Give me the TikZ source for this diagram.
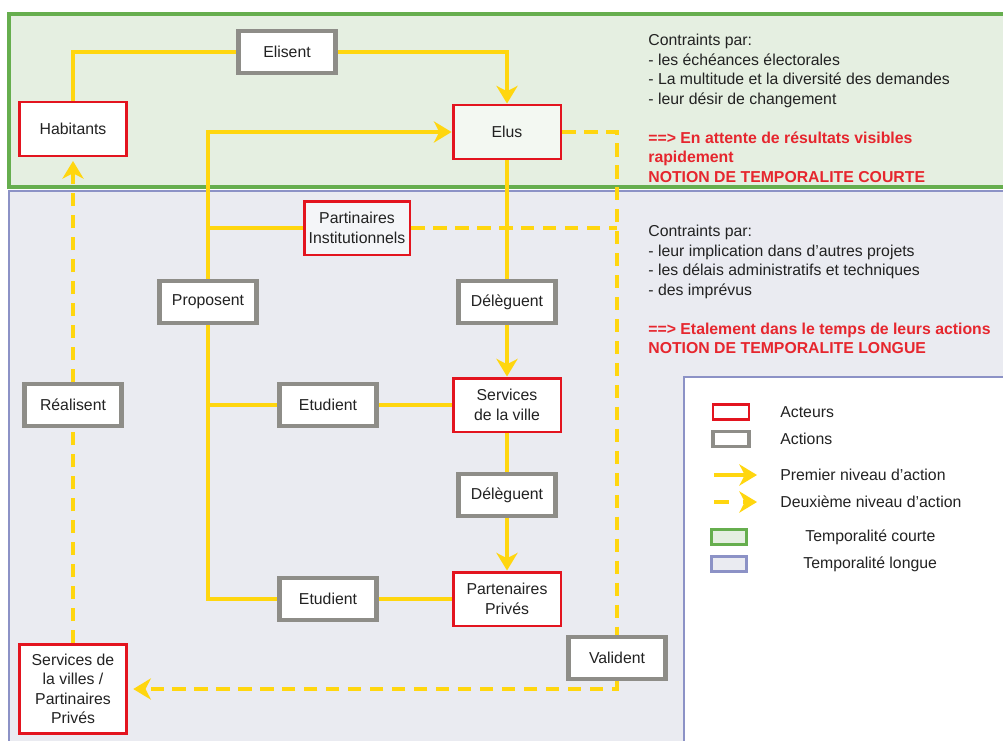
\documentclass[tikz,border=0pt]{standalone}
\usepackage{fontspec}
\setmainfont{Liberation Sans}
\usetikzlibrary{positioning}
\usetikzlibrary{arrows.meta}

\definecolor{jaune}{HTML}{FFD60F}
\definecolor{rouge}{HTML}{E3141F}
\definecolor{gris}{HTML}{8E8D88}
\definecolor{vert}{HTML}{66AE4E}
\definecolor{vertfond}{HTML}{E5EFE1}
\definecolor{bleu}{HTML}{8C92C6}
\definecolor{bleufond}{HTML}{EAEBF1}
\definecolor{texte}{HTML}{222222}
\definecolor{alerte}{HTML}{E6262E}

\begin{document}
\begin{tikzpicture}[x=0.02cm,y=-0.02cm,
      font=\fontsize{9}{11.1}\selectfont, text=texte,
      acteur/.style={draw=rouge,line width=1.7pt,fill=white,align=center,
        minimum width=2.16cm,minimum height=1.08cm,inner sep=1pt},
      action/.style={draw=gris,line width=2.4pt,fill=white,
        minimum width=1.94cm,minimum height=0.84cm,inner sep=1pt},
      trait/.style={draw=jaune,line width=1.8pt},
      fleche/.style={trait,-{Stealth[length=10pt,width=12pt,inset=3pt]}},
      tirets/.style={trait,dash pattern=on 7.5pt off 5pt},
      flechetirets/.style={tirets,-{Stealth[length=10pt,width=12pt,inset=3pt]}},
      bloc/.style={anchor=north west,inner sep=0pt,align=left},
      legende/.style={anchor=west,inner sep=0pt},
    ]
        \useasboundingbox (0,0) rectangle (1003,740);
        \clip (0,0) rectangle (1003,740);
        % fonds
        \draw[draw=vert,line width=2.3pt,fill=vertfond] (9,14) rectangle (1015,187);
        \draw[draw=bleu,line width=1.6pt,fill=bleufond] (9,191) rectangle (1015,750);
        \draw[draw=bleu,line width=1.6pt,fill=white] (684,377) rectangle (1015,750);

        % acteurs
        \node[acteur] (hab) at (73,129) {Habitants};
        \node[acteur,fill=white!55!vertfond] (elus) at (507,132) {Elus};
        \node[acteur,fill=white!50!bleufond,minimum width=2.12cm] (inst) at (357,228) {Partinaires\\Institutionnels};
        \node[acteur] (serv) at (507,405) {Services\\de la ville};
        \node[acteur] (priv) at (507,599) {Partenaires\\Priv\'es};
        \node[acteur,minimum width=2.14cm,minimum height=1.78cm] (svp) at (73,689) {Services de\\la villes /\\Partinaires\\Priv\'es};

        % actions
        \node[action] (elis) at (287,52) {Elisent};
        \node[action] (prop) at (208,302) {Proposent};
        \node[action] (del1) at (507,302) {D\'el\`eguent};
        \node[action] (real) at (73,405) {R\'ealisent};
        \node[action] (etu1) at (328,405) {Etudient};
        \node[action] (del2) at (507,495) {D\'el\`eguent};
        \node[action] (etu2) at (328,599) {Etudient};
        \node[action] (valid) at (617,658) {Valident};

        % premier niveau
        \draw[trait] (hab.north) |- (elis.west);
        \draw[fleche] (elis.east) -| (elus.north);
        \draw[fleche] (prop.north) |- (elus.west);
        \draw[trait] (inst.west) -- (inst.west -| prop.north);
        \draw[trait] (prop.south) |- (etu2.west);
        \draw[trait] (etu1.west) -- (etu1.west -| prop.south);
        \draw[trait] (etu1.east) -- (serv.west);
        \draw[trait] (etu2.east) -- (priv.west);
        \draw[trait] (elus.south) -- (del1.north);
        \draw[fleche] (del1.south) -- (serv.north);
        \draw[trait] (serv.south) -- (del2.north);
        \draw[fleche] (del2.south) -- (priv.north);

        % deuxieme niveau
        \draw[tirets] (elus.east) -| (valid.north);
        \draw[tirets] (inst.east) -- (inst.east -| valid.north);
        \draw[flechetirets,shorten >=3pt] (valid.south) |- (svp.east);
        \draw[tirets] (svp.north) -- (real.south);
        \draw[flechetirets,shorten >=2pt] (real.north) -- (hab.south);

        % textes
        \node[bloc] (courte) at (648,34) {Contraints par:\\
          - les \'ech\'eances \'electorales\\
          - La multitude et la diversit\'e des demandes\\
          - leur d\'esir de changement\\[11.1pt]
          \textcolor{alerte}{\bfseries ==> En attente de r\'esultats visibles}\\
          \textcolor{alerte}{\bfseries rapidement}\\
          \textcolor{alerte}{\bfseries NOTION DE TEMPORALITE COURTE}};
        \node[bloc] (longue) at (648,225) {Contraints par:\\
          - leur implication dans d’autres projets\\
          - les d\'elais administratifs et techniques\\
          - des impr\'evus\\[11.1pt]
          \textcolor{alerte}{\bfseries ==> Etalement dans le temps de leurs actions}\\
          \textcolor{alerte}{\bfseries NOTION DE TEMPORALITE LONGUE}};

        % legende
        \node[draw=rouge,line width=1.3pt,minimum width=0.72cm,minimum height=0.3cm,inner sep=0pt] (lgact) at (731,412) {};
        \node[legende] (lgacttxt) at (780,412) {Acteurs};
        \node[draw=gris,line width=2pt,minimum width=0.72cm,minimum height=0.3cm,inner sep=0pt] (lgaction) at (731,439) {};
        \node[legende] (lgactiontxt) at (780,439) {Actions};
        \coordinate (lgun) at (714,475);
        \coordinate (lgunfin) at (757,475);
        \draw[fleche] (lgun) -- (lgunfin);
        \node[legende] (lguntxt) at (780,475) {Premier niveau d’action};
        \coordinate (lgdeux) at (714,502);
        \coordinate (lgdeuxfin) at (757,502);
        \draw[flechetirets,dash pattern=on 8.5pt off 8pt] (lgdeux) -- (lgdeuxfin);
        \node[legende] (lgdeuxtxt) at (780,502) {Deuxi\`eme niveau d’action};
        \node[draw=vert,fill=vertfond,line width=1.7pt,minimum width=0.7cm,minimum height=0.3cm,inner sep=0pt] (lgcourte) at (729,537) {};
        \node[legende] (lgcourtetxt) at (805,537) {Temporalit\'e courte};
        \node[draw=bleu,fill=bleufond,line width=1.7pt,minimum width=0.7cm,minimum height=0.3cm,inner sep=0pt] (lglongue) at (729,564) {};
        \node[legende] (lglonguetxt) at (803,564) {Temporalit\'e longue};
    \end{tikzpicture}
\end{document}
